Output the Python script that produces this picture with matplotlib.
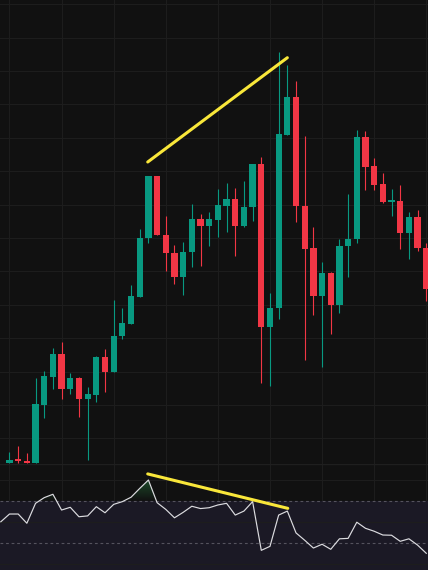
import numpy as np
import matplotlib.pyplot as plt
from matplotlib.colors import LinearSegmentedColormap
from matplotlib.path import Path

# candle data (price units), one entry per bar
opens = [13.7, 14.0, 13.9, 13.7, 19.5, 22.33, 24.6, 21.1, 22.23, 20.07,
         20.5, 24.3, 22.83, 26.4, 27.63, 30.33, 36.17, 42.37, 36.5, 34.7,
         32.3, 34.83, 38.1, 37.43, 38.03, 39.43, 40.1, 37.37, 39.3, 43.57,
         27.33, 29.23, 46.53, 50.3, 39.4, 35.2, 30.4, 32.67, 29.5, 35.4,
         36.07, 46.3, 43.4, 41.57, 39.85, 39.9, 36.73, 38.33, 35.23]
closes = [14.0, 13.95, 13.7, 19.6, 22.4, 24.6, 21.1, 22.23, 20.07, 20.6,
          24.3, 22.83, 26.4, 27.67, 30.4, 36.23, 42.37, 36.47, 34.7, 32.3,
          34.83, 38.1, 37.43, 38.1, 39.5, 40.1, 37.37, 39.3, 43.57, 27.33,
          29.23, 46.6, 50.3, 39.4, 35.13, 30.4, 32.67, 29.5, 35.4, 36.07,
          46.3, 43.33, 41.5, 39.77, 39.9, 36.73, 38.33, 35.23, 31.1]
highs = [14.8, 15.4, 14.73, 22.2, 22.9, 25.2, 25.8, 22.7, 22.3, 21.33,
         24.43, 25.07, 30.0, 29.17, 31.5, 37.1, 42.43, 42.4, 38.4, 35.5,
         35.77, 39.57, 38.6, 38.77, 41.1, 41.7, 41.23, 41.9, 43.6, 44.33,
         30.67, 54.83, 53.5, 51.9, 46.37, 37.33, 33.83, 32.83, 36.1, 40.6,
         47.0, 46.9, 44.23, 42.67, 41.1, 41.5, 38.77, 39.0, 35.67]
lows = [13.7, 13.7, 13.67, 13.7, 18.2, 21.1, 20.1, 20.6, 18.33, 14.0,
        19.83, 20.83, 22.8, 26.1, 27.6, 30.3, 35.73, 36.47, 32.93, 31.63,
        30.5, 33.27, 33.43, 35.43, 36.3, 36.83, 34.4, 37.27, 37.9, 21.73,
        21.43, 28.07, 46.53, 37.83, 24.0, 28.5, 23.33, 26.6, 28.73, 32.33,
        35.67, 41.0, 41.0, 39.7, 38.4, 35.1, 34.07, 34.93, 29.9]

# RSI values, first one belongs to the bar just left of the view
rsi = [60.1, 63.8, 63.8, 59.4, 68.9, 71.6, 73.2, 65.7, 67.0, 62.5,
       62.9, 67.3, 64.4, 68.4, 69.7, 71.8, 76.0, 80.0, 69.2, 66.0,
       62.0, 64.6, 67.5, 66.4, 66.8, 68.1, 68.9, 63.3, 65.2, 69.7,
       46.5, 48.4, 63.3, 65.2, 54.8, 51.3, 47.6, 49.4, 47.0, 52.0,
       52.2, 59.9, 57.0, 55.6, 53.8, 53.7, 50.8, 52.0, 49.0, 45.1]

# divergence lines (bar index, value)
price_line_x = [15.92, 32.0]
price_line_y = [43.8, 54.23]
rsi_line_x = [15.92, 32.05]
rsi_line_y = [82.9, 66.5]

bg = '#111111'
grid_c = '#1d1d1d'
up_c = '#089981'
down_c = '#f23645'
yellow = '#f9e73a'

fig = plt.figure(figsize=(4.28, 5.70), dpi=100)
fig.patch.set_facecolor(bg)
ax = fig.add_axes([0, 106 / 570, 1, 464 / 570])
ax2 = fig.add_axes([0, 0, 1, 106 / 570])

n = len(opens)
x = np.arange(n)
xlim = (-1.094, 48.2)

for a in (ax, ax2):
    a.set_facecolor(bg)
    for s in a.spines.values():
        s.set_visible(False)
    a.set_xticks([])
    a.set_yticks([])
    for gx in range(0, 49, 6):
        a.axvline(gx, color=grid_c, lw=0.75, zorder=0)

# main pane
for gy in np.arange(59.57, 13.6, -3.34):
    ax.axhline(gy, color=grid_c, lw=0.75, zorder=0)

o = np.array(opens)
c = np.array(closes)
cols = [up_c if c[i] >= o[i] else down_c for i in range(n)]
ax.vlines(x, lows, highs, colors=cols, lw=0.8, zorder=2)
body_bot = np.minimum(o, c)
body_h = np.maximum(np.abs(c - o), 0.12)
ax.bar(x, body_h, bottom=body_bot, width=0.72, color=cols, zorder=3, linewidth=0)

ax.plot(price_line_x, price_line_y, color=yellow, lw=2.2, solid_capstyle='round', zorder=4)
ax.set_xlim(*xlim)
ax.set_ylim(13.6, 60.0)

# RSI pane
rx = np.arange(-1, n)
r = np.array(rsi)
ax2.axhspan(30, 70, color='#1b1925', zorder=0.5, lw=0)
for gy in (80, 60, 40):
    ax2.axhline(gy, color=grid_c, lw=0.75, zorder=0.6)
ax2.axhline(70, color='#55535e', lw=0.8, ls=(0, (2.5, 2.5)), zorder=1)
ax2.axhline(50, color='#55535e', lw=0.8, ls=(0, (2.5, 2.5)), zorder=1)

# overbought gradient fill
poly = ax2.fill_between(rx, 70, r, where=r > 70, interpolate=True,
                        facecolor='none', edgecolor='none')
clip = Path.make_compound_path(*poly.get_paths())
cmap = LinearSegmentedColormap.from_list(
    'ob', [(0.24, 0.9, 0.43, 0.0), (0.24, 0.9, 0.43, 0.8)])
grad = np.linspace(0, 1, 256).reshape(-1, 1)
im = ax2.imshow(grad, extent=[xlim[0], xlim[1], 70, 100], origin='lower',
                aspect='auto', cmap=cmap, zorder=1.5)
im.set_clip_path(clip, ax2.transData)

ax2.plot(rx, r, color='#dcdce0', lw=0.85, zorder=2)
ax2.plot(rsi_line_x, rsi_line_y, color=yellow, lw=2.2, solid_capstyle='round', zorder=4)
ax2.axhline(87.6, color='#1f1f1f', lw=1.0, zorder=0.7)
ax2.set_xlim(*xlim)
ax2.set_ylim(37.14, 87.62)

fig.savefig('out.png', dpi=100, facecolor=bg)
